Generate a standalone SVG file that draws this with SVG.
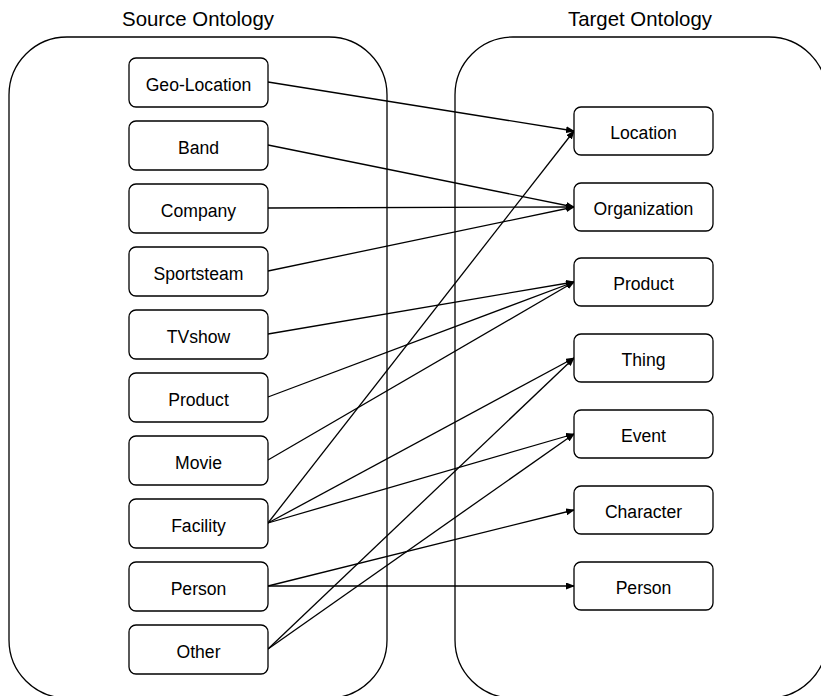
<svg xmlns="http://www.w3.org/2000/svg" width="821" height="696" viewBox="0 0 821 696">
<style>
.box{fill:#fff;stroke:#000;stroke-width:1.3}
.cont{fill:none;stroke:#000;stroke-width:1.3}
.lbl{font-family:"Liberation Sans",Arial,sans-serif;font-size:17.6px;fill:#000;text-anchor:middle}
.ttl{font-family:"Liberation Sans",Arial,sans-serif;font-size:20.4px;fill:#000;text-anchor:middle}
.edge{fill:none;stroke:#000;stroke-width:1.3;marker-end:url(#ah)}
</style>
<defs>
<marker id="ah" markerWidth="9" markerHeight="7" refX="8" refY="3.5" orient="auto" markerUnits="userSpaceOnUse">
<path d="M0,0 L9,3.5 L0,7 Z" fill="#000"/>
</marker>
</defs>
<rect fill="#fff" width="821" height="696"/>
<g id="source-ontology">
<rect class="cont" x="9" y="37" width="378" height="661" rx="58" ry="58"/>
<text class="ttl" x="198" y="26">Source Ontology</text>
</g>
<g id="target-ontology">
<rect class="cont" x="455" y="37" width="372" height="661" rx="58" ry="58"/>
<text class="ttl" x="640" y="26">Target Ontology</text>
</g>
<g id="connectors">
<path class="edge" d="M268,82 L574,131"/>
<path class="edge" d="M268,145 L574,207"/>
<path class="edge" d="M268,208 L574,207"/>
<path class="edge" d="M268,271 L574,207"/>
<path class="edge" d="M268,334 L574,282"/>
<path class="edge" d="M268,397 L574,282"/>
<path class="edge" d="M268,460 L574,282"/>
<path class="edge" d="M268,523 L574,131"/>
<path class="edge" d="M268,523 L574,358"/>
<path class="edge" d="M268,523 L574,434"/>
<path class="edge" d="M268,586 L574,510"/>
<path class="edge" d="M268,586 L574,586"/>
<path class="edge" d="M268,649 L574,358"/>
<path class="edge" d="M268,649 L574,434"/>
</g>
<g id="s-geo"><rect class="box" x="129" y="58" width="139" height="49" rx="7"/><text class="lbl" x="198.5" y="90.5">Geo-Location</text></g>
<g id="s-band"><rect class="box" x="129" y="121" width="139" height="49" rx="7"/><text class="lbl" x="198.5" y="153.5">Band</text></g>
<g id="s-company"><rect class="box" x="129" y="184" width="139" height="49" rx="7"/><text class="lbl" x="198.5" y="216.5">Company</text></g>
<g id="s-sportsteam"><rect class="box" x="129" y="247" width="139" height="49" rx="7"/><text class="lbl" x="198.5" y="279.5">Sportsteam</text></g>
<g id="s-tvshow"><rect class="box" x="129" y="310" width="139" height="49" rx="7"/><text class="lbl" x="198.5" y="342.5">TVshow</text></g>
<g id="s-product"><rect class="box" x="129" y="373" width="139" height="49" rx="7"/><text class="lbl" x="198.5" y="405.5">Product</text></g>
<g id="s-movie"><rect class="box" x="129" y="436" width="139" height="49" rx="7"/><text class="lbl" x="198.5" y="468.5">Movie</text></g>
<g id="s-facility"><rect class="box" x="129" y="499" width="139" height="49" rx="7"/><text class="lbl" x="198.5" y="531.5">Facility</text></g>
<g id="s-person"><rect class="box" x="129" y="562" width="139" height="49" rx="7"/><text class="lbl" x="198.5" y="594.5">Person</text></g>
<g id="s-other"><rect class="box" x="129" y="625" width="139" height="49" rx="7"/><text class="lbl" x="198.5" y="657.5">Other</text></g>
<g id="t-location"><rect class="box" x="574" y="107" width="139" height="48" rx="7"/><text class="lbl" x="643.5" y="139">Location</text></g>
<g id="t-organization"><rect class="box" x="574" y="183" width="139" height="48" rx="7"/><text class="lbl" x="643.5" y="215">Organization</text></g>
<g id="t-product"><rect class="box" x="574" y="258" width="139" height="48" rx="7"/><text class="lbl" x="643.5" y="290">Product</text></g>
<g id="t-thing"><rect class="box" x="574" y="334" width="139" height="48" rx="7"/><text class="lbl" x="643.5" y="366">Thing</text></g>
<g id="t-event"><rect class="box" x="574" y="410" width="139" height="48" rx="7"/><text class="lbl" x="643.5" y="442">Event</text></g>
<g id="t-character"><rect class="box" x="574" y="486" width="139" height="48" rx="7"/><text class="lbl" x="643.5" y="518">Character</text></g>
<g id="t-person"><rect class="box" x="574" y="562" width="139" height="48" rx="7"/><text class="lbl" x="643.5" y="594">Person</text></g>
</svg>
